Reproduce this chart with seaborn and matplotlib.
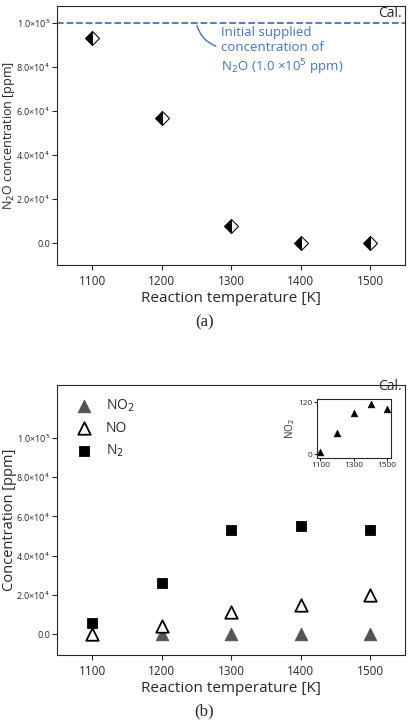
import matplotlib
matplotlib.use("Agg")
import matplotlib.pyplot as plt
import seaborn as sns
import pandas as pd
from matplotlib.ticker import FuncFormatter

sns.set_style("ticks")
plt.rcParams['font.family'] = ['Open Sans', 'DejaVu Sans']

temps = [1100, 1200, 1300, 1400, 1500]
n2o = [9.3e4, 5.7e4, 0.8e4, 0.0, 0.0]
no2 = [0, 0, 0, 0, 0]
no = [0, 0.4e4, 1.1e4, 1.5e4, 2.0e4]
n2 = [0.55e4, 2.6e4, 5.3e4, 5.5e4, 5.3e4]
no2_inset = [5, 48, 96, 115, 104]
initial = 1.0e5

def sci(v, p):
    if abs(v) < 1:
        return "0.0"
    return f"{v/1e4:.1f}×10$^{{4}}$" if v < 9.9e4 else f"{v/1e5:.1f}×10$^{{5}}$"

L, W = 0.14, 0.85
fig = plt.figure(figsize=(4.09, 7.21), dpi=100)
ax1 = fig.add_axes([L, 0.632, W, 0.36])
df1 = pd.DataFrame({"T": temps, "N2O": n2o})
sns.lineplot(data=df1, x="T", y="N2O", ax=ax1, linestyle="", marker="D", markersize=7,
             fillstyle="left", color="black", markerfacecoloralt="white", markeredgecolor="black")
ax1.axhline(initial, color="#4472C4", ls="--", lw=1.3)
ax1.text(1545, 1.01e5, "Cal.", ha="right", va="bottom", fontsize=10)
ax1.text(1285, 8.7e4, "Initial supplied\nconcentration of\nN$_2$O (1.0 ×10$^5$ ppm)", color="#4472C4",
         fontsize=9.5, va="center", linespacing=1.2)
ax1.annotate("", xy=(1250, 1.0e5), xytext=(1282, 8.9e4),
             arrowprops=dict(arrowstyle="-", color="#4472C4", connectionstyle="arc3,rad=-0.3"))
ax1.set_xlim(1050, 1550)
ax1.set_ylim(-1.0e4, 1.077e5)

ax2 = fig.add_axes([L, 0.0915, W, 0.3745])
sns.scatterplot(x=temps, y=no2, ax=ax2, marker="^", s=80, color="#555555", edgecolor="#555555", label="NO$_2$")
sns.scatterplot(x=temps, y=no, ax=ax2, marker="^", s=80, facecolor="white", edgecolor="black", linewidth=1.3, label="NO")
sns.scatterplot(x=temps, y=n2, ax=ax2, marker="s", s=55, color="black", edgecolor="black", label="N$_2$")
ax2.legend(loc="upper left", frameon=False, fontsize=10, handletextpad=0.6)
ax2.set_xlim(1050, 1550)
ax2.set_ylim(-1.07e4, 1.27e5)
ax2.text(1545, 1.225e5, "Cal.", ha="right", va="bottom", fontsize=10)

for ax, lab, fs in [(ax1, "N$_2$O concentration [ppm]", 9), (ax2, "Concentration [ppm]", 10.5)]:
    ax.set_xticks(temps)
    ax.set_yticks([0, 2e4, 4e4, 6e4, 8e4, 1e5])
    ax.yaxis.set_major_formatter(FuncFormatter(sci))
    ax.set_xlabel("Reaction temperature [K]", fontsize=11, labelpad=2)
    ax.set_ylabel(lab, fontsize=fs)
    ax.yaxis.set_label_coords(-0.115, 0.5)
    ax.tick_params(axis="x", labelsize=8.5)
    ax.tick_params(axis="y", labelsize=6.5, pad=1.5)

axi = fig.add_axes([0.775, 0.365, 0.18, 0.082])
sns.scatterplot(x=temps, y=no2_inset, ax=axi, marker="^", s=24, color="black", edgecolor="black")
axi.set_xlim(1080, 1520)
axi.set_ylim(-8, 128)
axi.set_xticks([1100, 1300, 1500])
axi.set_yticks([0, 120])
axi.set_ylabel("NO$_2$", fontsize=7, labelpad=1)
axi.tick_params(labelsize=6, length=2, pad=1)

fig.text(0.5, 0.548, "(a)", ha="center", fontsize=12, family="Liberation Serif")
fig.text(0.5, 0.008, "(b)", ha="center", fontsize=12, family="Liberation Serif")
fig.savefig("out.png", dpi=100)
